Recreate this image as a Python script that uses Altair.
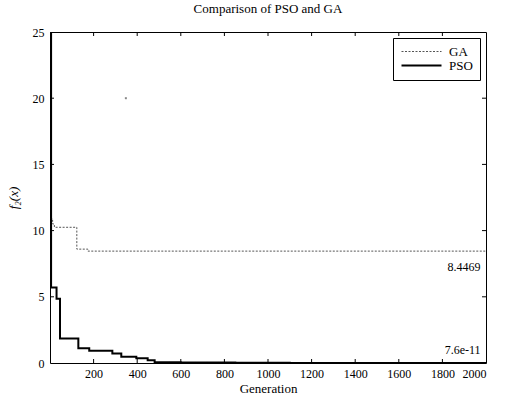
import altair as alt
import pandas as pd

# ---- data ----
pso_gen = [1, 5, 30, 46, 130, 180, 286, 327, 396, 448, 480, 600, 850, 1100, 2000]
pso_val = [25, 5.7, 4.85, 1.85, 1.12, 0.93, 0.72, 0.48, 0.35, 0.2, 0.06, 0.03, 0.01, 0.0, 0.0]

ga_gen = [1, 12, 20, 123, 174, 2000]
ga_val = [10.9, 10.5, 10.25, 8.6, 8.45, 8.45]

stray_gen = [348]
stray_val = [20]

x_ticks = [200, 400, 600, 800, 1000, 1200, 1400, 1600, 1800, 2000]
y_ticks = [0, 5, 10, 15, 20, 25]

ann_text = ["8.4469", "7.6e-11"]
ann_gen = [1975, 1975]
ann_val = [7.25, 1.0]

W, H = 436, 331
SERIF = "Liberation Serif"

lines = pd.DataFrame(
    {"gen": ga_gen + pso_gen,
     "val": ga_val + pso_val,
     "method": ["GA"] * len(ga_gen) + ["PSO"] * len(pso_gen)}
)

xs = alt.Scale(domain=[0, 2000], nice=False, zero=False)
ys = alt.Scale(domain=[0, 25], nice=False)

ax_common = dict(ticks=False, grid=False, domain=False, format="d",
                 labelFont=SERIF, labelFontSize=12, labelColor="black",
                 titleFont=SERIF, titleFontSize=13, titleFontWeight="normal",
                 titleColor="black")

base_x = alt.X("gen:Q", scale=xs,
               axis=alt.Axis(title="Generation", values=x_ticks, labelPadding=5,
                             titlePadding=3, **ax_common))
base_y = alt.Y("val:Q", scale=ys,
               axis=alt.Axis(title="f₂(x)", values=y_ticks, labelPadding=6,
                             titleFontStyle="italic", titlePadding=12, **ax_common))

leg = dict(title=None, orient="top-right", offset=6, padding=7,
           strokeColor="black", fillColor="white",
           labelFont=SERIF, labelFontSize=13, labelColor="black",
           symbolType="M-7,0L1,0", symbolSize=100, symbolOffset=30,
           rowPadding=-2, labelOffset=6)

line_layer = alt.Chart(lines).mark_line(interpolate="step-after", clip=True).encode(
    x=base_x,
    y=base_y,
    color=alt.Color("method:N", scale=alt.Scale(domain=["GA", "PSO"], range=["#555555", "#000000"]),
                    legend=alt.Legend(**leg)),
    strokeDash=alt.StrokeDash("method:N", scale=alt.Scale(domain=["GA", "PSO"], range=[[2, 1.5], [1, 0]]),
                              legend=alt.Legend(**leg)),
    strokeWidth=alt.StrokeWidth("method:N", scale=alt.Scale(domain=["GA", "PSO"], range=[1, 2]),
                                legend=alt.Legend(**leg)),
)

stray = alt.Chart(pd.DataFrame({"gen": stray_gen, "val": stray_val})).mark_point(
    filled=True, size=4, color="#555555", shape="square").encode(
    x=alt.X("gen:Q", scale=xs), y=alt.Y("val:Q", scale=ys))

ann = alt.Chart(pd.DataFrame({"gen": ann_gen, "val": ann_val, "t": ann_text})).mark_text(
    align="right", baseline="middle", font=SERIF, fontSize=12, color="#000").encode(
    x=alt.X("gen:Q", scale=xs), y=alt.Y("val:Q", scale=ys), text="t:N")

xt = pd.DataFrame({"gen": x_ticks[:-1]})
yt = pd.DataFrame({"val": y_ticks[1:-1]})
tick_bottom = alt.Chart(xt).mark_rule(color="black", strokeWidth=1).encode(
    x=alt.X("gen:Q", scale=xs), y=alt.value(H), y2=alt.value(H - 4))
tick_top = alt.Chart(xt).mark_rule(color="black", strokeWidth=1).encode(
    x=alt.X("gen:Q", scale=xs), y=alt.value(0), y2=alt.value(4))
tick_left = alt.Chart(yt).mark_rule(color="black", strokeWidth=1).encode(
    y=alt.Y("val:Q", scale=ys), x=alt.value(0), x2=alt.value(4))
tick_right = alt.Chart(yt).mark_rule(color="black", strokeWidth=1).encode(
    y=alt.Y("val:Q", scale=ys), x=alt.value(W), x2=alt.value(W - 4))

chart = alt.layer(
    line_layer, stray, ann, tick_bottom, tick_top, tick_left, tick_right
).properties(
    width=W, height=H,
    background="white",
    title=alt.TitleParams("Comparison of PSO and GA", font=SERIF, fontSize=13,
                          fontWeight="normal", color="black", offset=10),
    autosize=alt.AutoSizeParams(type="none"),
    padding={"left": 50, "top": 32, "right": 19, "bottom": 36},
).configure_view(
    stroke="black", strokeWidth=1
)

chart.save("out.html", embed_options={"renderer": "svg", "actions": False})
